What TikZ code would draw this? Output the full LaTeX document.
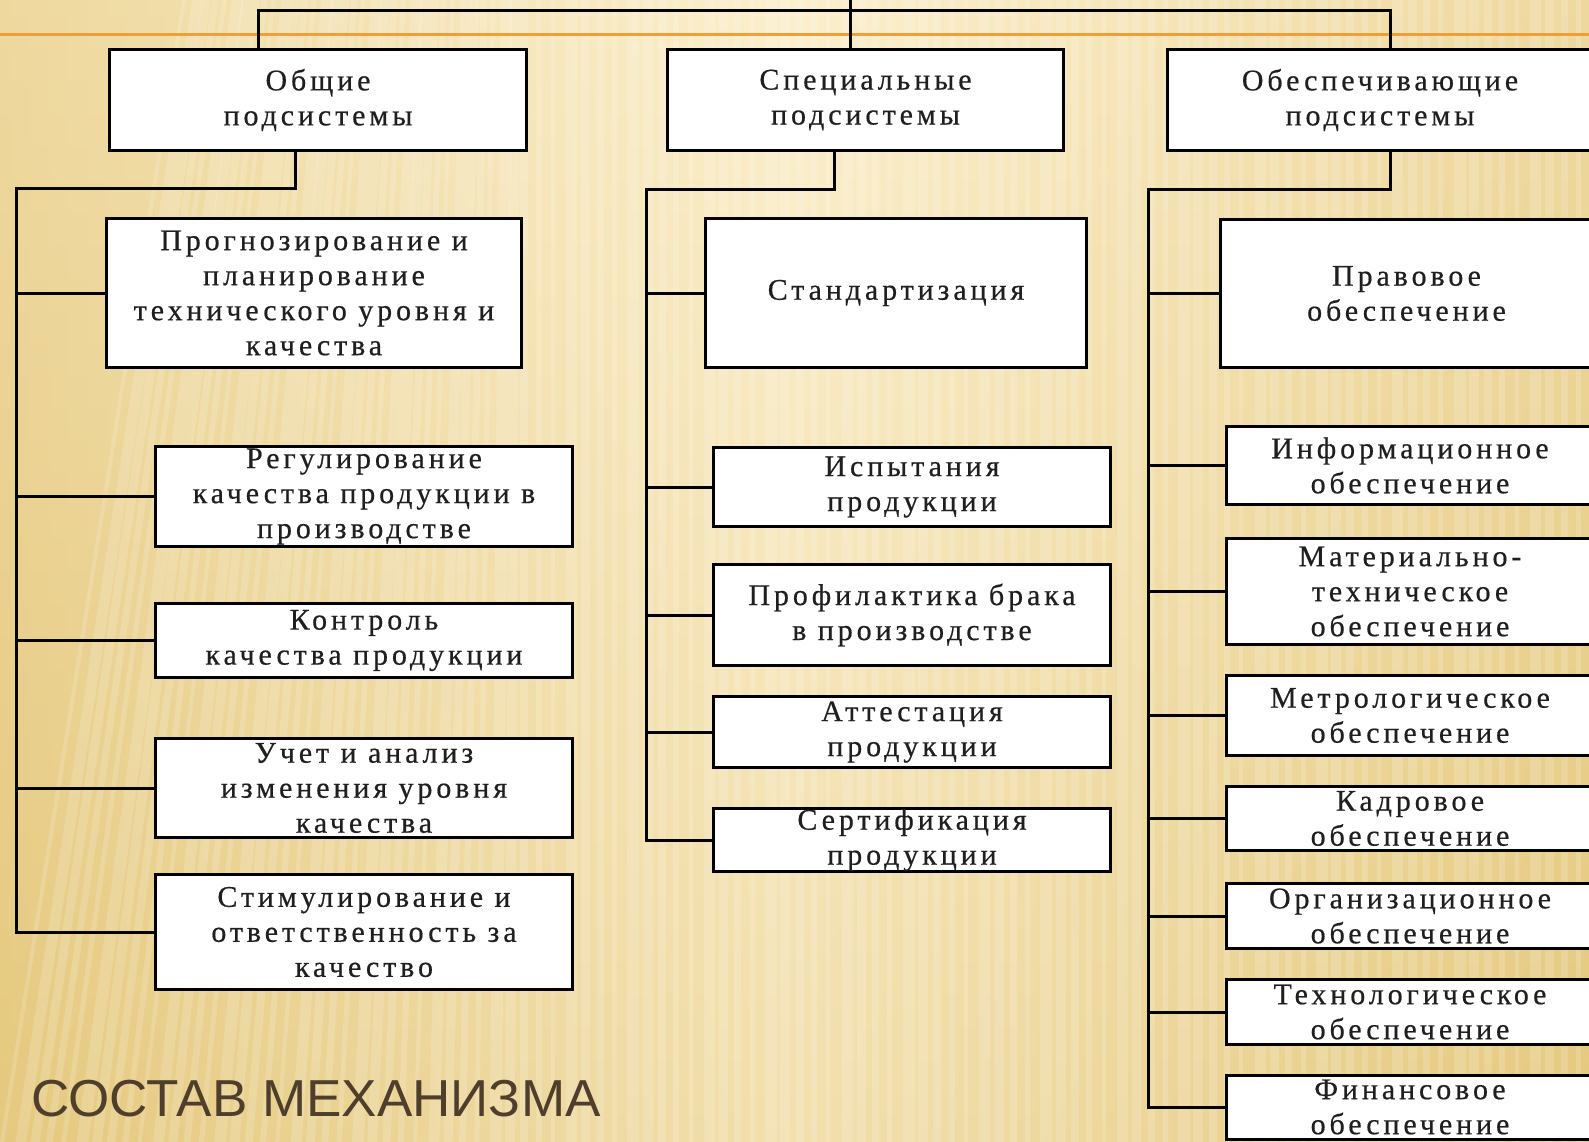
\documentclass[tikz,border=0pt]{standalone}
\usepackage{fontspec}
\newfontfamily\boxfont{Liberation Serif}[LetterSpace=13,FakeBold=0.5]
\newfontfamily\titlefont{Liberation Sans}[FakeStretch=1.02]
\definecolor{bgtop}{HTML}{FAECC6}
\definecolor{bgbot}{HTML}{E5C97F}
\definecolor{bgmid}{HTML}{FCF2D4}
\definecolor{orangeline}{HTML}{EDA03A}
\definecolor{titlebrown}{HTML}{4F3E2C}

\tikzset{
  subbox/.style={draw=black, line width=3pt, fill=white, align=center, inner sep=0pt,
    text=black!88, font=\boxfont\fontsize{30}{35}\selectfont},
  leftbox/.style={subbox, minimum width=417},
  midbox/.style={subbox, minimum width=397},
  rightbox/.style={subbox, minimum width=367},
  link/.style={line width=3pt}
}

\begin{document}
\begin{tikzpicture}[x=1pt,y=-1pt]
% ---------- background ----------
\clip (0,0) rectangle (1589,1142);
\shade[top color=bgtop, bottom color=bgbot] (0,0) rectangle (1589,1142);
\shade[left color=bgbot, right color=bgbot, middle color=bgmid, opacity=0.55] (0,0) rectangle (1589,1142);
\foreach \i in {0,...,105} {
  \pgfmathsetmacro{\xs}{\i*15.3}
  \pgfmathsetmacro{\tilt}{max(0,520-\xs)*0.35}
  \pgfmathsetmacro{\wd}{4+mod(\i*7,9)}
  \fill[white, opacity=0.16] (\xs+\tilt,0) -- (\xs+\tilt+\wd,0) -- (\xs+\wd,1142) -- (\xs,1142) -- cycle;
}
\draw[orangeline, line width=3pt] (0,35) -- (1589,35);
% ---------- top level ----------
\node[subbox, minimum width=417, minimum height=101] (gen) at (318,100) {Общие\\подсистемы};
\node[subbox, minimum width=396, minimum height=101] (spec) at (865.5,100) {Специальные\\подсистемы};
\node[subbox, minimum width=425, minimum height=101] (supp) at (1380,100) {Обеспечивающие\\подсистемы};
% ---------- general subsystems ----------
\node[subbox, minimum width=415, minimum height=149] (prog) at (314,293)
  {Прогнозирование и\\планирование\\технического уровня и\\качества};
\node[leftbox, minimum height=100] (reg) at (364,496.5) {Регулирование\\качества продукции в\\производстве};
\node[leftbox, minimum height=74] (ctrl) at (364,640.5) {Контроль\\качества продукции};
\node[leftbox, minimum height=99] (acc) at (364,788) {Учет и анализ\\изменения уровня\\качества};
\node[leftbox, minimum height=115] (stim) at (364,932) {Стимулирование и\\ответственность за\\качество};
% ---------- special subsystems ----------
\node[subbox, minimum width=381, minimum height=149] (std) at (896,293) {Стандартизация};
\node[midbox, minimum height=79] (test) at (912,487) {Испытания\\продукции};
\node[midbox, minimum height=101] (prev) at (912,615) {Профилактика брака\\в производстве};
\node[midbox, minimum height=71] (att) at (912,732) {Аттестация\\продукции};
\node[midbox, minimum height=63] (cert) at (912,840) {Сертификация\\продукции};
% ---------- supporting subsystems ----------
\node[subbox, minimum width=372, minimum height=148] (law) at (1406.5,293.5) {Правовое\\обеспечение};
\node[rightbox, minimum height=78] (info) at (1410,465.5) {Информационное\\обеспечение};
\node[rightbox, minimum height=106] (mat) at (1410,591.5) {Материально-\\техническое\\обеспечение};
\node[rightbox, minimum height=80] (metr) at (1410,715.5) {Метрологическое\\обеспечение};
\node[rightbox, minimum height=64] (staff) at (1410,818.5) {Кадровое\\обеспечение};
\node[rightbox, minimum height=65] (org) at (1410,916) {Организационное\\обеспечение};
\node[rightbox, minimum height=65] (tech) at (1410,1012) {Технологическое\\обеспечение};
\node[rightbox, minimum height=64] (fin) at (1410,1107) {Финансовое\\обеспечение};
% ---------- top bus ----------
\coordinate (root) at (850,-5);
\coordinate (bus) at (850,11);
\draw[link] ([xshift=-60]gen.north) |- (bus) -| ([xshift=10]supp.north);
\draw[link] ([xshift=-15.5]spec.north) -- (root);
% ---------- trunks ----------
\coordinate (gentrunk) at (16,189);
\coordinate (spectrunk) at (646,190);
\coordinate (supptrunk) at (1148,190);
\draw[link] ([xshift=-23]gen.south) |- (gentrunk) |- (stim.west);
\draw[link] ([xshift=-31.5]spec.south) |- (spectrunk) |- (cert.west);
\draw[link] ([xshift=10]supp.south) |- (supptrunk) |- (fin.west);
\foreach \b in {prog,reg,ctrl,acc}
  \draw[link] (\b.west) -- (\b.west -| gentrunk);
\foreach \b in {std,test,prev,att}
  \draw[link] (\b.west) -- (\b.west -| spectrunk);
\foreach \b in {law,info,mat,metr,staff,org,tech}
  \draw[link] (\b.west) -- (\b.west -| supptrunk);
% ---------- title ----------
\node[anchor=base west, inner sep=0pt, text=titlebrown, font=\titlefont\fontsize{52}{60}\selectfont]
  (title) at (31,1116) {СОСТАВ МЕХАНИЗМА};
\end{tikzpicture}
\end{document}
